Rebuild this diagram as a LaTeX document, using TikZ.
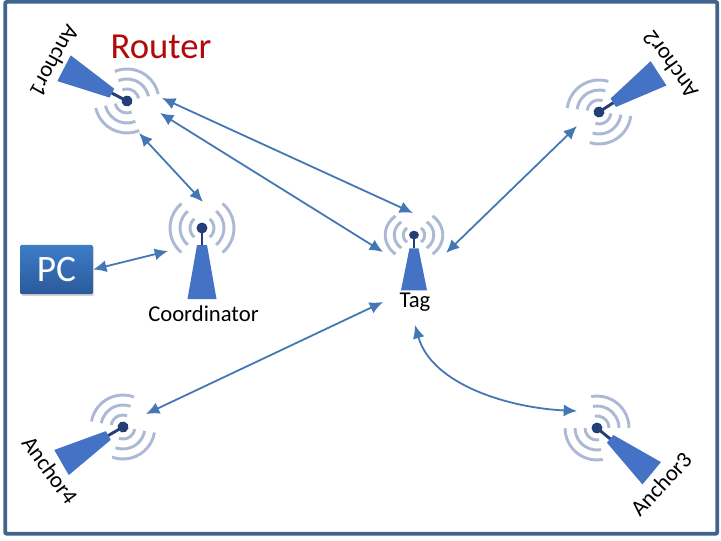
\documentclass[tikz,border=0pt]{standalone}
\usepackage{fontspec}
\setmainfont{Carlito}
\usetikzlibrary{arrows.meta,shadows}
\definecolor{frameColor}{RGB}{65,100,143}
\definecolor{towerColor}{RGB}{68,114,196}
\definecolor{dotColor}{RGB}{36,62,120}
\definecolor{waveColor}{RGB}{172,185,212}
\definecolor{linkColor}{RGB}{68,119,181}
\definecolor{routerColor}{RGB}{176,10,10}
\definecolor{pcTop}{RGB}{62,124,200}
\definecolor{pcBottom}{RGB}{42,90,155}
\tikzstyle{diagram} = [x = .75pt, y = -.75pt]
\tikzstyle{frameLine} = [color=frameColor, line width=2.9pt, rounded corners=1.5pt]
\tikzstyle{towerStyle} = [fill=towerColor]
\tikzstyle{mastLine} = [color=dotColor, line width=2.2pt]
\tikzstyle{waveLine} = [color=waveColor, line width=2.2pt]
\tikzstyle{linkLine} = [color=linkColor, line width=1.35pt, {Latex[length=10pt,width=9pt]}-{Latex[length=10pt,width=9pt]}]
\tikzstyle{labelText} = [font=\fontsize{17}{19}\selectfont, inner sep=0pt]
\tikzstyle{pcBox} = [minimum width=54.5pt, minimum height=37pt, inner sep=0pt, rounded corners=1pt, top color=pcTop, bottom color=pcBottom, text=white, font=\fontsize{28}{30}\selectfont, drop shadow={shadow xshift=1pt, shadow yshift=-1.2pt, opacity=.35}]
% #1 dot x, #2 dot y, #3 rotation, #4 xscale, #5 yscale
\newcommand{\antenna}[5]{
  \begin{scope}[shift={(#1,#2)}, rotate=#3, xscale=#4, yscale=#5]
    \fill [towerStyle] (-5,17) -- (5,17) -- (14.5,71) -- (-14.5,71) -- cycle;
    \draw [mastLine] (0,0) -- (0,17);
    \foreach \radius in {12,22,32} {
      \draw [waveLine] (50:\radius) arc (50:-50:\radius);
      \draw [waveLine] (130:\radius) arc (130:230:\radius);
    }
    \fill [dotColor] (0,0) circle (5.5);
  \end{scope}
}
\begin{document}
\begin{tikzpicture}[diagram]
  \useasboundingbox (0,0) rectangle (721,540);
  \draw [frameLine] (5.2,1.8) rectangle (717.3,533.8);
  \antenna{127}{101}{-117.5}{1}{1}
  \antenna{599}{112}{123}{1}{1}
  \antenna{597}{428}{50.4}{1}{1}
  \antenna{123}{427}{-60}{1}{1}
  \antenna{202}{228}{0}{1}{1}
  \antenna{414}{235}{0}{.9}{.78}
  \node [font=\fontsize{27.5}{30}\selectfont, text=routerColor, inner sep=0pt] (router) at (161,47) {Router};
  \node [pcBox] (pc) at (56.5,269.5) {PC};
  \node [labelText] (coordinator) at (203.5,314) {Coordinator};
  \node [labelText] (tag) at (415,302) {Tag};
  \node [labelText, rotate=-119] (anchorOne) at (55,61) {Anchor1};
  \node [labelText, rotate=126] (anchorTwo) at (670,65) {Anchor2};
  \node [labelText, rotate=47] (anchorThree) at (661,484) {Anchor3};
  \node [labelText, rotate=-54] (anchorFour) at (50,470) {Anchor4};
  % free ends of the links
  \coordinate (oneUpper) at (162,98);
  \coordinate (oneLower) at (160,113);
  \coordinate (oneDown) at (139,133);
  \coordinate (coordTop) at (203,202);
  \coordinate (coordLeft) at (168,251);
  \coordinate (tagTop) at (413,213);
  \coordinate (tagLeft) at (383,252);
  \coordinate (tagRight) at (446,253);
  \coordinate (tagBelow) at (383,302);
  \coordinate (tagFoot) at (415,325);
  \coordinate (twoEnd) at (577,126);
  \coordinate (threeEnd) at (577,411);
  \coordinate (fourEnd) at (146,414);
  \draw [linkLine] (oneUpper) -- (tagTop);
  \draw [linkLine] (oneLower) -- (tagLeft);
  \draw [linkLine] (oneDown) -- (coordTop);
  \draw [linkLine] (pc.east) -- (coordLeft);
  \draw [linkLine] (twoEnd) -- (tagRight);
  \draw [linkLine] (fourEnd) -- (tagBelow);
  \draw [linkLine] (tagFoot) .. controls (432,385) and (510,408) .. (threeEnd);
\end{tikzpicture}
\end{document}
